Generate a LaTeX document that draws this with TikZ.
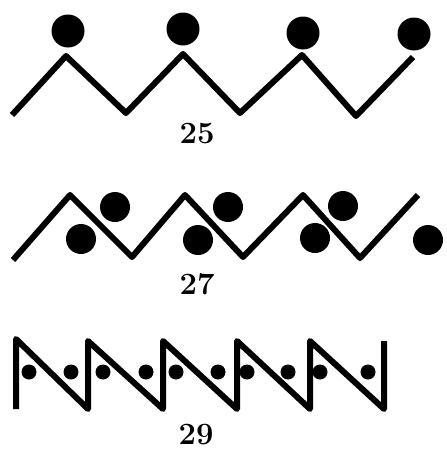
\documentclass[tikz,border=0pt]{standalone}
\usepackage{fontspec}
\definecolor{zzink}{HTML}{000000}

\begin{document}
\begin{tikzpicture}[
  x=1pt, y=-1pt,
  line width=6pt, line join=round,
  font=\bfseries\fontsize{31}{31}\selectfont,
]
\useasboundingbox (0,0) rectangle (447,450);

% pattern 25
\draw[zzink]
  (12,115) -- (66,56) -- (126,113) -- (183,54) -- (240,113)
  -- (302,55) -- (356,116) -- (413,57);
\foreach \x/\y in {68/31, 183/29, 303/33, 414/34}
  \fill[zzink] (\x,\y) circle[radius=16.5];
\node[text=zzink] (lbl25) at (197,134) {25};

% pattern 27
\draw[zzink]
  (13,260) -- (70,195) -- (132,257) -- (185,195) -- (243,257)
  -- (303,195) -- (360,258) -- (418,195);
\foreach \x/\y in {115/207, 228/207, 343/206, 81/239, 198/240, 315/238, 428/240}
  \fill[zzink] (\x,\y) circle[radius=15];
\node[text=zzink] (lbl27) at (197,284) {27};

% pattern 29
\draw[zzink]
  (16,409) -- (16,339)
  \foreach \x in {88,163,237,310,384} {
    -- (\x,409) -- (\x,341)
  };
\foreach \x in {29,71,103,146,176,218,247,288,320,368}
  \fill[zzink] (\x,372) circle[radius=7.5];
\node[text=zzink] (lbl29) at (196,435) {29};

\end{tikzpicture}
\end{document}
